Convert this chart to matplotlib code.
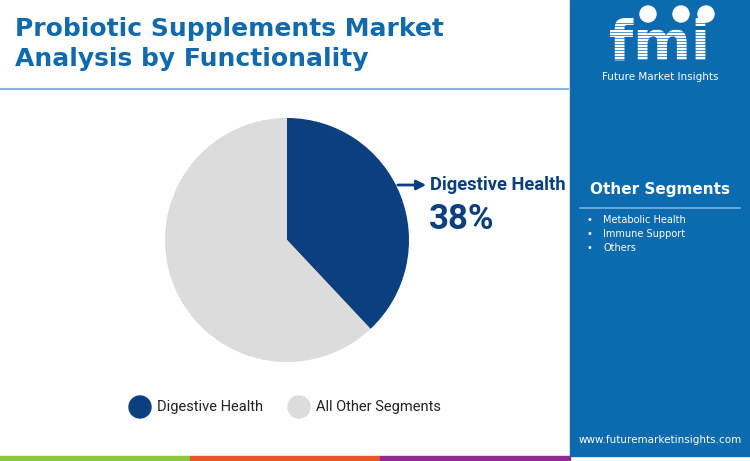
import matplotlib.pyplot as plt
from matplotlib.patches import Rectangle, Ellipse
from matplotlib.lines import Line2D

# ----------------------------
# DATA
# ----------------------------
segments = ["Digestive Health", "All Other Segments"]
shares = [38, 62]
other_segments = ["Metabolic Health", "Immune Support", "Others"]

NAVY = "#0B3F7E"
GREY = "#DCDCDC"
PANEL = "#0B6BAE"
TITLE = "#1169AE"

W, H = 750, 461


def fx(x):
    return x / W


def fy(y):
    return 1 - y / H


def dot(cx, cy, r, color, z=2):
    # round in pixels, not in figure fractions
    fig.patches.append(Ellipse((fx(cx), fy(cy)), 2 * r / W, 2 * r / H,
                               transform=fig.transFigure, color=color, zorder=z))


fig = plt.figure(figsize=(7.5, 4.61), dpi=100)
fig.patch.set_facecolor("white")

# right panel
fig.patches.append(Rectangle((fx(570), fy(456)), fx(180), 456 / H,
                             transform=fig.transFigure, color=PANEL, zorder=0))

# bottom colour strip
for x0, x1, c in [(0, 190, "#8DC63F"), (190, 380, "#E8562A"), (380, 570, "#8E2D8E")]:
    fig.patches.append(Rectangle((fx(x0), 0), fx(x1 - x0), 5 / H,
                                 transform=fig.transFigure, color=c, zorder=1))

# title
fig.text(fx(15), fy(29), "Probiotic Supplements Market", color=TITLE,
         fontsize=18, fontweight="bold", va="center", ha="left")
fig.text(fx(15), fy(59), "Analysis by Functionality", color=TITLE,
         fontsize=18, fontweight="bold", va="center", ha="left")
fig.lines.append(Line2D([0, fx(568)], [fy(89), fy(89)], transform=fig.transFigure,
                        color="#8DB6D6", lw=1.5))

# pie
ax = fig.add_axes([fx(165), fy(362), fx(244), 244 / H])
ax.pie(shares, colors=[NAVY, GREY], startangle=90, counterclock=False,
       wedgeprops=dict(linewidth=0))
ax.set_xlim(-1, 1)
ax.set_ylim(-1, 1)
ax.set_aspect("equal")
ax.axis("off")

# callout
fig.add_artist(plt.Annotation("", xy=(fx(429), fy(185)), xytext=(fx(395), fy(185)),
                              xycoords="figure fraction", textcoords="figure fraction",
                              arrowprops=dict(arrowstyle="-|>", color=NAVY, lw=2,
                                              mutation_scale=14)))
fig.text(fx(430), fy(185), segments[0], color=NAVY, fontsize=13.2,
         fontweight="bold", va="center", ha="left", family="Roboto")
fig.text(fx(429), fy(219), f"{shares[0]}%", color=NAVY, fontsize=25,
         fontweight="bold", va="center", ha="left", family="Roboto")

# legend
for cx, tx, c, label in [(140, 157, NAVY, segments[0]), (299, 316, GREY, segments[1])]:
    dot(cx, 407, 11, c)
    fig.text(fx(tx), fy(407), label, color="#222222", fontsize=10.5,
             va="center", ha="left", family="Roboto")

# logo
fig.text(fx(660), fy(60), "fmi", color="white", fontsize=40, fontweight="bold",
         va="baseline", ha="center")
for yy in range(23, 61, 3):
    fig.lines.append(Line2D([fx(595), fx(725)], [fy(yy), fy(yy)],
                            transform=fig.transFigure, color=PANEL, lw=0.5,
                            zorder=5))
for cx in (648, 681, 706):
    dot(cx, 14, 8, "white", z=6)
fig.text(fx(660), fy(77), "Future Market Insights", color="white", fontsize=7.5,
         va="center", ha="center")

# other segments box
fig.text(fx(660), fy(189), "Other Segments", color="white", fontsize=11,
         fontweight="bold", va="center", ha="center")
fig.lines.append(Line2D([fx(580), fx(740)], [fy(208), fy(208)],
                        transform=fig.transFigure, color="#7FB2DA", lw=1.2))
for i, name in enumerate(other_segments):
    y = 220 + i * 14
    fig.text(fx(589), fy(y), "\u2022", color="white", fontsize=7, va="center",
             ha="center")
    fig.text(fx(603), fy(y), name, color="white", fontsize=7, va="center",
             ha="left")

fig.text(fx(660), fy(440), "www.futuremarketinsights.com", color="white",
         fontsize=7.5, va="center", ha="center")

fig.savefig("out.png", dpi=100)
